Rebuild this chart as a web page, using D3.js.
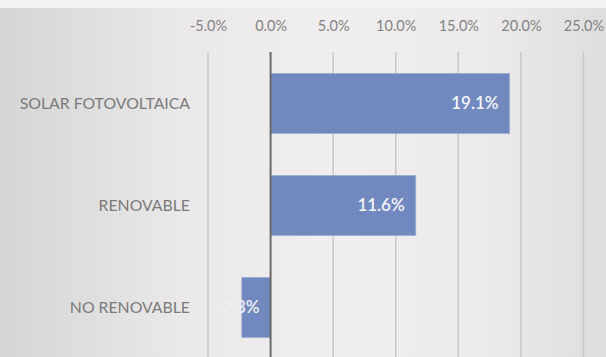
<!DOCTYPE html>
<html>
<head>
<meta charset="utf-8">
<script src="https://cdn.jsdelivr.net/npm/d3@7/dist/d3.min.js"></script>
<style>
  html, body { margin: 0; padding: 0; background: #f2f0f0; }
  svg { display: block; }
</style>
</head>
<body>
<svg id="chart" width="606" height="357"></svg>
<script>
// Growth by generation type
const categories = ["SOLAR FOTOVOLTAICA", "RENOVABLE", "NO RENOVABLE"];
const values = [19.1, 11.6, -2.3];
const tickValues = [-5, 0, 5, 10, 15, 20, 25];

const W = 606, H = 357;
const svg = d3.select("#chart");
const FONT = "Lato, 'Open Sans', sans-serif";
const pct = d => d.toFixed(1) + "%";

// Background panel with soft horizontal shading
const defs = svg.append("defs");
const grad = defs.append("linearGradient").attr("id", "bg").attr("x1", 0).attr("x2", 1).attr("y1", 0).attr("y2", 0);
[[0, "#d6d5d5"], [0.3, "#eae8e8"], [0.55, "#f0eeee"], [0.8, "#eceaea"], [1, "#dfdede"]]
  .forEach(([o, c]) => grad.append("stop").attr("offset", o).attr("stop-color", c));
svg.append("rect").attr("width", W).attr("height", H).attr("fill", "url(#bg)");
svg.append("rect").attr("width", W).attr("height", 8).attr("fill", "#f3f2f2");

const x = d3.scaleLinear().domain([-5, 25]).range([208, 583.5]);
const y = d3.scaleBand().domain(categories).range([52.5, 358.5]).paddingInner(0.41).paddingOuter(0.205);

// Vertical gridlines
svg.append("g").selectAll("line").data(tickValues.filter(d => d !== 0)).join("line")
  .attr("x1", d => x(d)).attr("x2", d => x(d))
  .attr("y1", 52).attr("y2", H)
  .attr("stroke", "#c9c8c8").attr("stroke-width", 1.5);

// Top axis tick labels
const axis = d3.axisTop(x).tickValues(tickValues).tickSize(0).tickPadding(0).tickFormat(pct);
const ax = svg.append("g").attr("transform", "translate(0,31)").call(axis);
ax.select(".domain").remove();
ax.selectAll("text").attr("fill", "#828282").attr("font-family", FONT).attr("font-size", 14.5);

// Bars
svg.append("g").selectAll("rect").data(values).join("rect")
  .attr("x", d => x(Math.min(0, d)))
  .attr("width", d => Math.abs(x(d) - x(0)))
  .attr("y", (d, i) => y(categories[i]))
  .attr("height", y.bandwidth())
  .attr("fill", "#7189bf")
  .attr("stroke", "#9fb0d6").attr("stroke-width", 0.8);

// Zero baseline
svg.append("line")
  .attr("x1", x(0)).attr("x2", x(0)).attr("y1", 52).attr("y2", H)
  .attr("stroke", "#6a6a6a").attr("stroke-width", 2);

// Category labels
svg.append("g").selectAll("text").data(categories).join("text")
  .attr("x", 190)
  .attr("y", d => y(d) + y.bandwidth() / 2)
  .attr("dy", "0.35em")
  .attr("text-anchor", "end")
  .attr("fill", "#7a7a7a")
  .attr("font-family", FONT).attr("font-size", 15.8)
  .text(d => d);

// Value labels at the inside end of each bar
svg.append("g").selectAll("text").data(values).join("text")
  .attr("x", d => d >= 0 ? x(d) - 11 : x(0) - 11)
  .attr("y", (d, i) => y(categories[i]) + y.bandwidth() / 2)
  .attr("dy", "0.35em")
  .attr("text-anchor", "end")
  .attr("fill", d => d >= 0 ? "#f4f5f9" : "#eef0f6")
  .attr("font-family", FONT).attr("font-size", 17).attr("font-weight", 600)
  .text(pct);
</script>
</body>
</html>
